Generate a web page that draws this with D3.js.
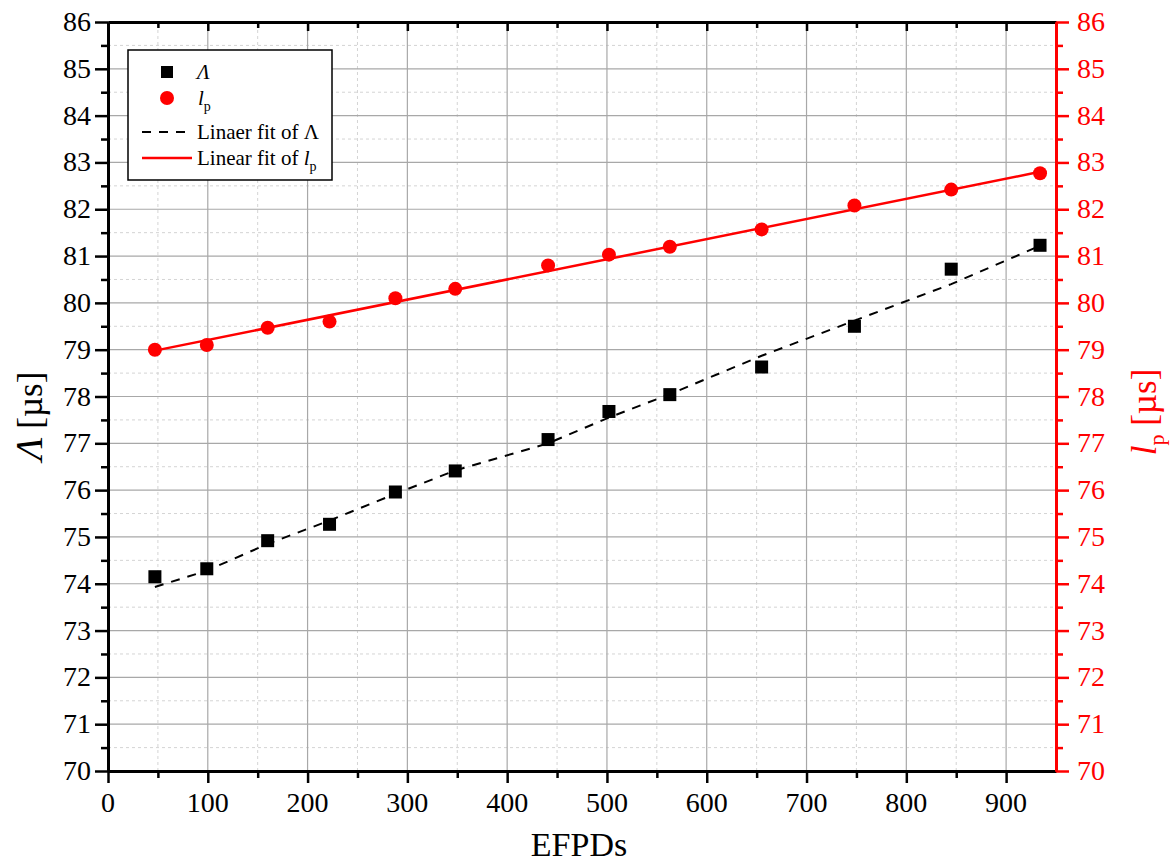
<!DOCTYPE html>
<html>
<head>
<meta charset="utf-8">
<script src="https://cdn.jsdelivr.net/npm/d3@7"></script>
<style>
  body { margin: 0; background: #fff; }
  text { font-family: 'Liberation Serif', serif; }
</style>
</head>
<body>
<div id="chart"></div>
<script>
// EFPDs for each measurement
const efpd = [47, 99, 160, 222, 288, 348, 441, 502, 563, 655, 748, 845, 934];
// Λ [µs]
const lambdaVals = [74.15, 74.32, 74.92, 75.27, 75.96, 76.41, 77.08, 77.68, 78.04, 78.63, 79.50, 80.72, 81.23];
// l_p [µs]
const lpVals = [79.0, 79.1, 79.47, 79.6, 80.1, 80.3, 80.8, 81.03, 81.2, 81.57, 82.08, 82.42, 82.77];
// fitted curve of Λ as drawn
const lambdaFit = [73.93, 74.28, 74.85, 75.35, 75.92, 76.42, 77.0, 77.55, 78.05, 78.87, 79.62, 80.4, 81.22];
// linear fit of l_p (end points)
const lpFitX = [47, 934];
const lpFitY = [78.98, 82.8];

const xTicks = d3.range(0, 901, 100);
const yTicks = d3.range(70, 87, 1);

const width = 1172, height = 862;
const margin = {top: 22, right: 116, bottom: 91, left: 108};

const svg = d3.select("#chart").append("svg")
    .attr("width", width)
    .attr("height", height);

const x = d3.scaleLinear().domain([0, 950]).range([margin.left, width - margin.right]);
const y = d3.scaleLinear().domain([70, 86]).range([height - margin.bottom, margin.top]);

const x0 = x.range()[0], x1 = x.range()[1];
const y0 = y.range()[0], y1 = y.range()[1];

// grid: minor dashed, then major solid
const minorX = d3.range(50, 950, 100);
const minorY = d3.range(70.5, 86, 1);

svg.append("g").selectAll("line").data(minorX).join("line")
    .attr("x1", d => x(d)).attr("x2", d => x(d))
    .attr("y1", y0).attr("y2", y1)
    .attr("stroke", "#d4d4d4").attr("stroke-dasharray", "3,3");
svg.append("g").selectAll("line").data(minorY).join("line")
    .attr("x1", x0).attr("x2", x1)
    .attr("y1", d => y(d)).attr("y2", d => y(d))
    .attr("stroke", "#d4d4d4").attr("stroke-dasharray", "3,3");
svg.append("g").selectAll("line").data(xTicks.filter(d => d > 0)).join("line")
    .attr("x1", d => x(d)).attr("x2", d => x(d))
    .attr("y1", y0).attr("y2", y1)
    .attr("stroke", "#a8a8a8").attr("stroke-width", 1.2);
svg.append("g").selectAll("line").data(yTicks.filter(d => d > 70 && d < 86)).join("line")
    .attr("x1", x0).attr("x2", x1)
    .attr("y1", d => y(d)).attr("y2", d => y(d))
    .attr("stroke", "#a8a8a8").attr("stroke-width", 1.2);

// axes (lines and ticks only; labels drawn below)
const noLabel = () => "";
function styleAxis(g, color) {
    g.selectAll("path").attr("stroke", color).attr("stroke-width", 3);
    g.selectAll("line").attr("stroke", color).attr("stroke-width", 2.5);
}

svg.append("g")
    .attr("transform", `translate(0,${y1})`)
    .call(d3.axisBottom(x).tickValues(minorX).tickSize(6).tickFormat(noLabel).tickSizeOuter(0))
    .call(g => styleAxis(g, "#000"));
svg.append("g")
    .attr("transform", `translate(0,${y1})`)
    .call(d3.axisBottom(x).tickValues(xTicks.filter(d => d > 0)).tickSize(9).tickFormat(noLabel).tickSizeOuter(0))
    .call(g => styleAxis(g, "#000"));

svg.append("g")
    .attr("transform", `translate(0,${y0})`)
    .call(d3.axisBottom(x).tickValues(minorX).tickSize(7).tickFormat(noLabel).tickSizeOuter(0))
    .call(g => styleAxis(g, "#000"));
svg.append("g")
    .attr("transform", `translate(0,${y0})`)
    .call(d3.axisBottom(x).tickValues(xTicks).tickSize(12).tickFormat(noLabel).tickSizeOuter(0))
    .call(g => styleAxis(g, "#000"));

svg.append("g")
    .attr("transform", `translate(${x0},0)`)
    .call(d3.axisLeft(y).tickValues(minorY).tickSize(7).tickFormat(noLabel).tickSizeOuter(0))
    .call(g => styleAxis(g, "#000"));
svg.append("g")
    .attr("transform", `translate(${x0},0)`)
    .call(d3.axisLeft(y).tickValues(yTicks).tickSize(13).tickFormat(noLabel).tickSizeOuter(0))
    .call(g => styleAxis(g, "#000"));

svg.append("g")
    .attr("transform", `translate(${x1},0)`)
    .call(d3.axisRight(y).tickValues(minorY).tickSize(7).tickFormat(noLabel).tickSizeOuter(0))
    .call(g => styleAxis(g, "#ff0000"));
svg.append("g")
    .attr("transform", `translate(${x1},0)`)
    .call(d3.axisRight(y).tickValues(yTicks).tickSize(13).tickFormat(noLabel).tickSizeOuter(0))
    .call(g => styleAxis(g, "#ff0000"));

// tick labels
const tickFs = 28;
svg.append("g").selectAll("text").data(xTicks).join("text")
    .attr("x", d => x(d))
    .attr("y", y0 + 41)
    .attr("text-anchor", "middle")
    .style("font-size", tickFs + "px")
    .text(d => d);
svg.append("g").selectAll("text").data(yTicks).join("text")
    .attr("x", x0 - 17)
    .attr("y", d => y(d) + 9)
    .attr("text-anchor", "end")
    .style("font-size", tickFs + "px")
    .text(d => d);
svg.append("g").selectAll("text").data(yTicks).join("text")
    .attr("x", x1 + 21)
    .attr("y", d => y(d) + 9)
    .attr("fill", "#ff0000")
    .style("font-size", tickFs + "px")
    .text(d => d);

// fit lines
const line = d3.line().x(d => x(d[0])).y(d => y(d[1]));

svg.append("path")
    .datum(d3.zip(efpd, lambdaFit))
    .attr("d", line)
    .attr("fill", "none")
    .attr("stroke", "#000")
    .attr("stroke-width", 2)
    .attr("stroke-dasharray", "9,8");

svg.append("path")
    .datum(d3.zip(lpFitX, lpFitY))
    .attr("d", line)
    .attr("fill", "none")
    .attr("stroke", "#ff0000")
    .attr("stroke-width", 2.5);

// points
const sq = 13;
svg.append("g").selectAll("rect").data(d3.zip(efpd, lambdaVals)).join("rect")
    .attr("x", d => x(d[0]) - sq / 2)
    .attr("y", d => y(d[1]) - sq / 2)
    .attr("width", sq).attr("height", sq)
    .attr("fill", "#000");

svg.append("g").selectAll("circle").data(d3.zip(efpd, lpVals)).join("circle")
    .attr("cx", d => x(d[0]))
    .attr("cy", d => y(d[1]))
    .attr("r", 7)
    .attr("fill", "#ff0000");

// axis titles
svg.append("text")
    .attr("x", 579)
    .attr("y", 856)
    .attr("text-anchor", "middle")
    .style("font-size", "34px")
    .text("EFPDs");

const leftTitle = svg.append("text")
    .attr("transform", "translate(42,416) rotate(-90)")
    .attr("text-anchor", "middle")
    .style("font-size", "35px")
    .attr("fill", "#000");
leftTitle.append("tspan").style("font-style", "italic").style("font-size", "38px").text("Λ");
leftTitle.append("tspan").text(" [µs]");

const rightTitle = svg.append("text")
    .attr("transform", "translate(1156,412) rotate(-90)")
    .attr("text-anchor", "middle")
    .style("font-size", "35px")
    .attr("fill", "#ff0000");
rightTitle.append("tspan").style("font-style", "italic").text("l");
rightTitle.append("tspan").attr("dy", 8).style("font-size", "22px").text("p");
rightTitle.append("tspan").attr("dy", -8).text(" [µs]");

// legend
const lg = svg.append("g");
lg.append("rect")
    .attr("x", 128).attr("y", 50).attr("width", 204).attr("height", 130)
    .attr("fill", "#fff").attr("stroke", "#000").attr("stroke-width", 1.5);

lg.append("rect").attr("x", 161).attr("y", 66).attr("width", 12).attr("height", 12).attr("fill", "#000");
lg.append("circle").attr("cx", 167).attr("cy", 98).attr("r", 7).attr("fill", "#ff0000");
lg.append("line").attr("x1", 142).attr("x2", 192).attr("y1", 132).attr("y2", 132)
    .attr("stroke", "#000").attr("stroke-width", 2).attr("stroke-dasharray", "9,8");
lg.append("line").attr("x1", 142).attr("x2", 192).attr("y1", 158).attr("y2", 158)
    .attr("stroke", "#ff0000").attr("stroke-width", 2.5);

const fs = "21px";
lg.append("text").attr("x", 197).attr("y", 79).style("font-size", fs)
    .style("font-style", "italic").text("Λ");
const l2 = lg.append("text").attr("x", 198).attr("y", 105).style("font-size", fs);
l2.append("tspan").style("font-style", "italic").text("l");
l2.append("tspan").attr("dy", 6).style("font-size", "14px").text("p");
lg.append("text").attr("x", 197).attr("y", 139).style("font-size", fs).text("Linaer fit of Λ");
const l4 = lg.append("text").attr("x", 197).attr("y", 165).style("font-size", fs);
l4.append("tspan").text("Linear fit of ");
l4.append("tspan").style("font-style", "italic").text("l");
l4.append("tspan").attr("dy", 6).style("font-size", "14px").text("p");
</script>
</body>
</html>
